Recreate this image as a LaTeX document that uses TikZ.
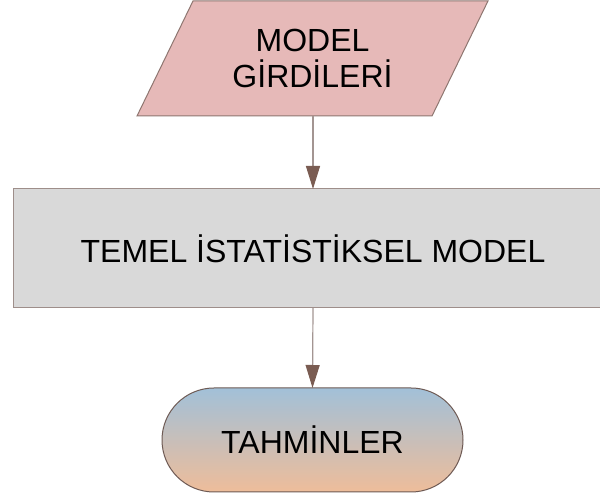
\documentclass[tikz,border=0pt]{standalone}
\usepackage{fontspec}
\setmainfont{Liberation Sans}
\usetikzlibrary{arrows.meta,backgrounds}
\definecolor{inputfill}{HTML}{E6B9B8}
\definecolor{inputline}{HTML}{8E7670}
\definecolor{procfill}{HTML}{D9D9D9}
\definecolor{procline}{HTML}{9E8E8A}
\definecolor{termtop}{HTML}{A2C0D8}
\definecolor{termbot}{HTML}{EEBD9A}
\definecolor{termline}{HTML}{6E5A54}
\definecolor{linkline}{HTML}{A39592}
\definecolor{linkhead}{HTML}{7A5C52}
\tikzset{
  x=1pt, y=1pt,
  every node/.style={font=\fontsize{32}{36}\selectfont, align=center, inner sep=0pt, outer sep=0pt},
  inputbox/.style={rectangle, minimum width=295pt, minimum height=115pt},
  inputshape/.style={fill=inputfill, draw=inputline, line width=1pt},
  procbox/.style={rectangle, minimum width=600pt, minimum height=119pt,
    fill=procfill, draw=procline, line width=1pt},
  termbox/.style={rectangle, rounded corners=52pt, minimum width=301pt, minimum height=104pt,
    top color=termtop, bottom color=termbot, draw=termline, line width=1pt},
  link/.style={draw=linkline, line width=1.2pt,
    -{Triangle[length=23pt, width=14pt, color=linkhead]}}
}
\begin{document}
\begin{tikzpicture}
\useasboundingbox (0,0) rectangle (600,497);
% input: parallelogram slanted 28pt each way around the text box
\node[inputbox] (inp) at (312.5,438.5) {MODEL\\GİRDİLERİ};
\begin{scope}[on background layer]
  \path[inputshape] ([xshift=28pt]inp.north west) -- ([xshift=28pt]inp.north east)
    -- ([xshift=-28pt]inp.south east) -- ([xshift=-28pt]inp.south west) -- cycle;
\end{scope}
\node[procbox] (model) at (313,248.5) {TEMEL İSTATİSTİKSEL MODEL};
\node[termbox] (out) at (312.5,57) {TAHMİNLER};
\draw[link] (inp.south -| model.north) -- (model.north);
\draw[link] (model.south) -- (out.north);
\end{tikzpicture}
\end{document}
